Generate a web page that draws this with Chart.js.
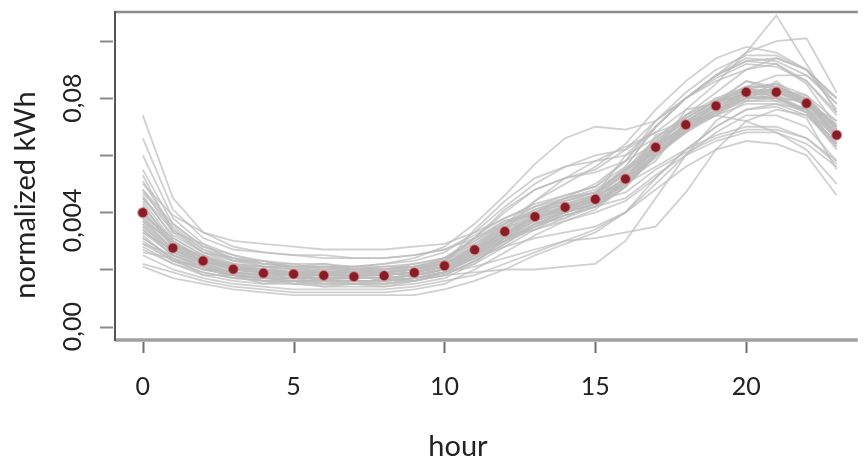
<!DOCTYPE html>
<html>
<head>
<meta charset="utf-8">
<script src="https://cdn.jsdelivr.net/npm/chart.js@4.4.1/dist/chart.umd.min.js"></script>
<style>
  html, body { margin: 0; padding: 0; background: #fff; overflow: hidden; }
  canvas { display: block; }
</style>
</head>
<body>
<canvas id="grafica" width="864" height="459"></canvas>
<script>
const hours = [0, 1, 2, 3, 4, 5, 6, 7, 8, 9, 10, 11, 12, 13, 14, 15, 16, 17, 18, 19, 20, 21, 22, 23];

// average profile (red dots), normalized kWh
const meanKwh = [
    0.0399, 0.0275, 0.0230, 0.0201, 0.0187, 0.0184, 0.0179, 0.0175,
    0.0178, 0.0189, 0.0213, 0.0269, 0.0333, 0.0385, 0.0418, 0.0446,
    0.0517, 0.0628, 0.0707, 0.0773, 0.0821, 0.0821, 0.0782, 0.0671
];

// single day profiles, in thousandths of normalized kWh
const profiles = [
    [74,45,33,28,26,25,24,24,24,25,27,32,38,43,46,49,56,70,80,88,94,93,88,78],
    [66,41,31,27,26,25,25,24,24,25,27,31,36,41,44,47,54,64,72,78,83,82,78,68],
    [60,38,29,25,23,22,22,21,21,22,24,29,35,40,43,46,50,56,62,67,70,70,66,57],
    [55,36,28,24,22,21,21,20,20,21,23,28,34,39,42,45,52,63,71,78,84,85,81,72],
    [51,34,27,23,21,20,20,20,20,21,23,29,36,42,46,49,58,72,82,90,95,95,90,80],
    [48,33,26,22,21,20,19,19,19,20,22,27,33,38,41,44,47,55,61,66,69,69,66,58],
    [46,31,25,22,20,19,19,18,18,19,21,26,32,37,40,43,50,61,69,75,80,80,76,66],
    [44,30,24,21,20,19,18,18,18,19,21,27,34,40,44,47,55,66,74,80,84,84,80,70],
    [42,29,24,21,19,18,18,18,18,19,21,26,32,38,41,44,51,62,71,77,82,83,79,69],
    [41,28,23,20,19,18,18,17,17,18,20,25,31,36,39,42,45,53,60,65,68,68,64,56],
    [39,28,23,20,19,18,17,17,17,18,20,26,33,39,43,46,54,65,73,79,84,84,80,70],
    [38,27,22,20,18,18,17,17,17,18,20,25,31,37,40,43,50,61,70,77,82,82,78,67],
    [37,27,22,19,18,17,17,17,17,18,20,26,32,38,42,45,52,64,72,78,82,81,76,64],
    [36,26,22,19,18,17,17,16,16,17,19,24,30,35,39,42,49,60,69,76,81,82,79,70],
    [35,26,21,19,17,17,16,16,16,17,19,25,32,38,42,46,56,70,80,88,93,94,90,78],
    [34,25,21,18,17,16,16,16,16,17,19,24,30,36,40,43,50,61,69,75,79,79,75,64],
    [33,25,21,18,17,16,16,16,16,17,19,25,31,37,41,45,52,63,71,77,81,80,75,63],
    [31,24,20,18,16,16,15,15,15,16,18,23,29,35,39,42,49,60,68,75,80,81,78,68],
    [29,23,19,17,16,15,15,15,15,16,18,23,30,36,40,44,51,62,70,76,80,80,75,62],
    [27,22,18,16,15,15,14,14,14,15,17,22,28,34,38,42,49,60,69,76,81,82,79,70],
    [25,20,17,15,14,13,13,13,13,14,16,18,22,26,30,34,40,50,60,68,74,74,70,58],
    [22,19,16,14,13,12,12,12,12,13,15,20,26,32,37,41,49,60,68,74,78,78,74,63],
    [21,17,15,13,12,11,11,11,11,11,13,16,20,25,29,33,40,52,62,70,76,77,73,55],
    [50,39,33,30,29,28,27,27,27,28,29,33,38,42,45,48,55,65,73,79,83,83,78,67],
    [40,29,24,22,21,21,21,21,22,24,28,36,46,57,66,70,69,72,80,88,93,92,86,74],
    [45,32,26,23,22,21,21,21,22,23,26,33,42,50,56,60,62,68,76,85,96,100,101,82],
    [36,27,23,20,19,18,18,18,18,19,22,28,35,41,45,50,58,70,80,88,96,109,92,75],
    [34,25,21,19,18,17,17,17,17,18,19,21,24,27,30,31,33,35,47,62,72,76,74,65],
    [28,22,19,17,16,16,16,16,16,17,18,19,20,20,21,22,30,45,60,72,79,80,76,64],
    [30,23,20,18,17,17,17,17,17,18,20,24,28,31,33,35,40,48,56,62,65,64,60,46],
    [37,27,23,20,19,19,19,19,19,20,23,31,41,48,52,54,58,64,70,76,80,80,76,66],
    [42,30,24,21,20,19,19,19,19,20,22,28,36,44,50,56,64,76,86,94,98,96,90,80],
    [35,26,22,19,18,18,18,18,18,19,21,26,34,44,52,58,63,68,72,78,84,88,88,80],
    [31,24,20,18,17,17,17,17,17,18,20,25,30,34,37,40,44,52,62,70,76,78,76,70],
    [40,29,24,21,20,19,19,19,19,20,22,27,33,38,42,45,52,63,70,74,72,68,62,50],
    [47,35,27,24,23,21,22,20,21,21,24,31,37,40,45,47,55,63,74,79,86,84,79,65],
    [39,31,25,21,21,19,20,19,18,20,23,31,40,48,52,55,62,72,80,86,90,92,85,70],
    [33,27,23,21,19,19,18,19,18,19,22,27,35,37,43,44,55,61,76,78,86,83,81,69],
    [43,28,25,20,20,18,19,17,19,18,21,28,31,40,41,46,50,67,71,80,79,86,78,72],
    [29,25,20,19,16,17,15,16,15,17,19,22,31,35,41,42,51,58,72,74,83,79,80,66],
    [37,30,22,22,18,18,16,18,16,18,20,26,30,39,40,45,49,64,68,79,81,85,77,71],
    [53,33,29,23,23,20,21,19,20,20,24,30,37,39,44,46,60,70,80,87,92,91,86,75],
    [26,24,18,18,15,16,14,15,14,16,18,23,29,36,38,44,50,60,70,75,84,80,79,67],
    [45,34,26,24,21,21,19,20,19,21,22,34,44,52,56,58,60,66,74,82,90,94,90,76],
    [32,23,21,17,18,15,17,15,17,16,19,24,32,34,40,43,52,59,69,74,80,84,77,66],
    [38,29,23,21,19,18,18,17,18,19,21,27,33,38,41,46,53,62,70,78,82,83,80,69],
    [48,36,28,25,22,22,20,21,20,22,24,30,36,40,45,47,53,64,73,79,83,85,79,68]
];

const xTicks = [0, 5, 10, 15, 20];
const xTickLabels = ["0", "5", "10", "15", "20"];
const yTicks = [0, 0.02, 0.04, 0.06, 0.08, 0.10];
const yTickLabels = ["0,00", "", "0,004", "", "0,08", ""];

const datasets = [{
    label: "media",
    data: hours.map((h, i) => ({ x: h, y: meanKwh[i] })),
    showLine: false,
    pointRadius: 5,
    pointBackgroundColor: "#861d27",
    pointBorderColor: "rgba(225,140,140,0.7)",
    pointBorderWidth: 1.2,
    order: 0
}];

profiles.forEach((p, k) => {
    datasets.push({
        label: "dia " + (k + 1),
        data: hours.map((h, i) => ({ x: h, y: p[i] / 1000 })),
        showLine: true,
        borderColor: "rgba(188,188,188,0.7)",
        borderWidth: 1.8,
        pointRadius: 0,
        tension: 0,
        order: 1
    });
});

// draws the box, tick marks and all the axis text
const marco = {
    id: "marco",
    afterDraw(chart) {
        const ctx = chart.ctx;
        const a = chart.chartArea;
        const x = chart.scales.x;
        const y = chart.scales.y;
        ctx.save();

        ctx.lineCap = "butt";
        ctx.strokeStyle = "#8c8c8c";
        ctx.lineWidth = 2.5;
        ctx.beginPath();
        ctx.moveTo(a.left, a.top);
        ctx.lineTo(a.right, a.top);
        ctx.stroke();

        ctx.strokeStyle = "#a0a0a0";
        ctx.lineWidth = 3.5;
        ctx.beginPath();
        ctx.moveTo(a.left, a.bottom);
        ctx.lineTo(a.right, a.bottom);
        ctx.stroke();

        ctx.strokeStyle = "#555";
        ctx.lineWidth = 2;
        ctx.beginPath();
        ctx.moveTo(a.left, a.top - 1);
        ctx.lineTo(a.left, a.bottom + 1);
        ctx.stroke();

        // tick marks
        ctx.strokeStyle = "#8a8a8a";
        ctx.lineWidth = 2;
        yTicks.forEach(v => {
            const py = Math.round(y.getPixelForValue(v)) + 0.5;
            ctx.beginPath();
            ctx.moveTo(a.left - 15, py);
            ctx.lineTo(a.left - 2, py);
            ctx.stroke();
        });
        ctx.strokeStyle = "#6e6e6e";
        xTicks.forEach(v => {
            const px = Math.round(x.getPixelForValue(v)) + 0.5;
            ctx.beginPath();
            ctx.moveTo(px, a.bottom + 2);
            ctx.lineTo(px, a.bottom + 13);
            ctx.stroke();
        });

        ctx.fillStyle = "#222";
        ctx.font = "25px Lato";
        ctx.textAlign = "center";
        ctx.textBaseline = "middle";
        xTicks.forEach((v, i) => {
            ctx.fillText(xTickLabels[i], x.getPixelForValue(v), 387);
        });

        yTicks.forEach((v, i) => {
            if (!yTickLabels[i]) return;
            let py = y.getPixelForValue(v);
            if (yTickLabels[i].length > 4) py += 8;
            ctx.save();
            ctx.translate(73, py);
            ctx.rotate(-Math.PI / 2);
            ctx.fillText(yTickLabels[i], 0, 0);
            ctx.restore();
        });

        ctx.font = "29px Lato";
        ctx.textBaseline = "alphabetic";
        ctx.fillText("hour", 458, 456);

        ctx.save();
        ctx.translate(35, 195);
        ctx.rotate(-Math.PI / 2);
        ctx.fillText("normalized kWh", 0, 0);
        ctx.restore();

        ctx.restore();
    }
};

const config = {
    type: "scatter",
    data: { datasets: datasets },
    plugins: [marco],
    options: {
        responsive: false,
        animation: false,
        devicePixelRatio: 1,
        layout: { padding: { top: 12, right: 0, left: 0, bottom: 0 } },
        plugins: {
            legend: { display: false },
            tooltip: { enabled: false }
        },
        scales: {
            x: {
                type: "linear",
                min: -0.92,
                max: 23.7,
                grid: { display: false },
                border: { display: false },
                ticks: { display: false },
                afterBuildTicks: s => { s.ticks = xTicks.map(v => ({ value: v })); },
                afterFit: s => { s.height = 119; }
            },
            y: {
                type: "linear",
                min: -0.0047,
                max: 0.1102,
                grid: { display: false },
                border: { display: false },
                ticks: { display: false },
                afterBuildTicks: s => { s.ticks = yTicks.map(v => ({ value: v })); },
                afterFit: s => { s.width = 115; }
            }
        }
    }
};

const ctx = document.querySelector("#grafica");
const graficaPerfiles = new Chart(ctx, config);
</script>
</body>
</html>
